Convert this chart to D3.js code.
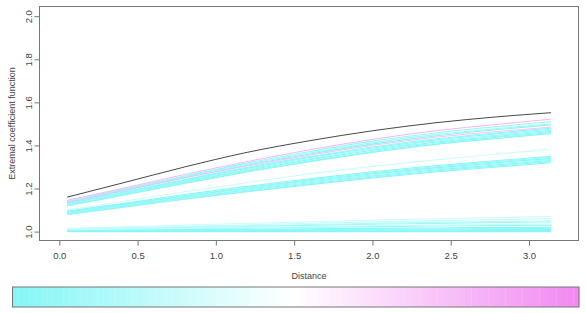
<!DOCTYPE html>
<html>
<head>
<meta charset="utf-8">
<script src="https://cdn.jsdelivr.net/npm/d3@7"></script>
<style>
  body { margin: 0; background: #fff; }
  text { font-family: "Liberation Sans", Arial, sans-serif; fill: #444; }
</style>
</head>
<body>
<svg width="586" height="313"></svg>
<script>
var distances = [0.05, 0.4, 0.8, 1.2, 1.6, 2.0, 2.4, 2.8, 3.14];

var xTicks = [0, 0.5, 1, 1.5, 2, 2.5, 3];
var yTicks = [1.0, 1.2, 1.4, 1.6, 1.8, 2.0];

// upper group (highest curve first)
var upperCurves = [
  [1.16, 1.225, 1.30, 1.368, 1.422, 1.468, 1.505, 1.533, 1.552],
  [1.145, 1.20, 1.265, 1.325, 1.38, 1.428, 1.468, 1.498, 1.522],
  [1.14, 1.195, 1.258, 1.318, 1.372, 1.42, 1.458, 1.488, 1.51],
  [1.14, 1.193, 1.255, 1.313, 1.365, 1.412, 1.45, 1.479, 1.50],
  [1.135, 1.188, 1.25, 1.308, 1.36, 1.406, 1.444, 1.474, 1.495],
  [1.135, 1.19, 1.25, 1.305, 1.355, 1.40, 1.438, 1.465, 1.485],
  [1.13, 1.182, 1.242, 1.298, 1.348, 1.393, 1.43, 1.459, 1.48],
  [1.13, 1.18, 1.239, 1.294, 1.344, 1.388, 1.425, 1.454, 1.475],
  [1.125, 1.176, 1.234, 1.289, 1.338, 1.382, 1.42, 1.448, 1.47],
  [1.125, 1.174, 1.231, 1.285, 1.334, 1.378, 1.415, 1.443, 1.465],
  [1.12, 1.17, 1.226, 1.28, 1.328, 1.372, 1.41, 1.438, 1.46],
  [1.12, 1.168, 1.224, 1.277, 1.325, 1.368, 1.405, 1.433, 1.455]
];
var upperShade = [-1, 0.85, 0.05, 0.1, 0.0, 0.8, 0.05, 0.0, 0.1, 0.0, 0.05, 0.0];

// middle group
var middleCurves = [
  [1.10, 1.14, 1.185, 1.228, 1.268, 1.303, 1.333, 1.36, 1.383],
  [1.095, 1.13, 1.172, 1.21, 1.245, 1.278, 1.306, 1.33, 1.35],
  [1.09, 1.126, 1.167, 1.205, 1.24, 1.273, 1.301, 1.325, 1.345],
  [1.09, 1.124, 1.164, 1.201, 1.236, 1.268, 1.296, 1.32, 1.34],
  [1.085, 1.12, 1.16, 1.197, 1.232, 1.263, 1.291, 1.315, 1.335],
  [1.085, 1.118, 1.157, 1.193, 1.227, 1.258, 1.286, 1.31, 1.33],
  [1.08, 1.114, 1.152, 1.188, 1.222, 1.253, 1.281, 1.305, 1.325],
  [1.08, 1.112, 1.15, 1.185, 1.218, 1.249, 1.277, 1.30, 1.32]
];
var middleShade = [0.3, 0.0, 0.05, 0.0, 0.1, 0.0, 0.05, 0.0];

// lower group, near 1
var lowerCurves = [
  [1.015, 1.022, 1.03, 1.038, 1.046, 1.053, 1.06, 1.065, 1.07],
  [1.012, 1.018, 1.025, 1.032, 1.039, 1.045, 1.051, 1.056, 1.06],
  [1.01, 1.015, 1.021, 1.027, 1.033, 1.038, 1.043, 1.047, 1.05],
  [1.01, 1.014, 1.019, 1.024, 1.029, 1.034, 1.038, 1.042, 1.045],
  [1.008, 1.011, 1.015, 1.019, 1.023, 1.027, 1.03, 1.033, 1.035],
  [1.006, 1.009, 1.013, 1.016, 1.02, 1.023, 1.026, 1.028, 1.03],
  [1.005, 1.007, 1.009, 1.011, 1.013, 1.015, 1.017, 1.019, 1.02],
  [1.003, 1.005, 1.007, 1.008, 1.01, 1.011, 1.012, 1.014, 1.015],
  [1.002, 1.003, 1.004, 1.005, 1.006, 1.007, 1.008, 1.009, 1.01],
  [1.001, 1.002, 1.002, 1.003, 1.003, 1.004, 1.004, 1.005, 1.005],
  [1.0, 1.0, 1.0, 1.0, 1.0, 1.0, 1.0, 1.0, 1.0]
];
var lowerShade = [0.3, 0.25, 0.2, 0.1, 0.25, 0.05, 0.0, 0.05, 0.0, 0.0, 0.0];

var svg = d3.select("svg");

var x = d3.scaleLinear().domain([0, 3]).range([59.3, 529]);
var y = d3.scaleLinear().domain([1, 2]).range([231.6, 16.2]);

var color = d3.scaleLinear()
    .domain([0, 0.5, 1])
    .range(["#86f6f6", "#ffffff", "#f28af2"]);

var line = d3.line()
    .x(function(d, i) { return x(distances[i]); })
    .y(function(d) { return y(d); })
    .curve(d3.curveMonotoneX);

var curves = [];
lowerCurves.forEach(function(c, i) { curves.push({ v: c, s: lowerShade[i] }); });
middleCurves.forEach(function(c, i) { curves.push({ v: c, s: middleShade[i] }); });
upperCurves.forEach(function(c, i) { curves.push({ v: c, s: upperShade[i] }); });

// lighter cyan first, pink next, black on top
var black = curves.filter(function(c) { return c.s < 0; });
var rest = curves.filter(function(c) { return c.s >= 0; });
rest.sort(function(a, b) { return a.s - b.s; });

svg.append("g")
  .selectAll("path")
  .data(rest.concat(black))
  .enter().append("path")
    .attr("d", function(d) { return line(d.v); })
    .attr("fill", "none")
    .attr("stroke", function(d) { return d.s < 0 ? "#333" : color(d.s); })
    .attr("stroke-width", function(d) { return d.s < 0 || d.s > 0.5 ? 0.9 : 1.1; });

// plot frame
svg.append("rect")
    .attr("x", 39.5).attr("y", 6.5)
    .attr("width", 539).attr("height", 234)
    .attr("fill", "none")
    .attr("stroke", "#777");

// x axis
var xAxis = svg.append("g").attr("transform", "translate(0,240.5)")
    .call(d3.axisBottom(x).tickValues(xTicks).tickSize(5).tickPadding(7)
      .tickFormat(d3.format(".1f")));
xAxis.select(".domain").remove();
xAxis.selectAll("line").attr("stroke", "#777");
xAxis.selectAll("text").style("font-size", "9.5px").attr("fill", "#4a4a4a");

// y axis
var yAxis = svg.append("g").attr("transform", "translate(39.5,0)")
    .call(d3.axisLeft(y).tickValues(yTicks).tickSize(5).tickFormat(d3.format(".1f")));
yAxis.select(".domain").remove();
yAxis.selectAll("line").attr("stroke", "#777");
yAxis.selectAll("text")
    .attr("x", null).attr("dy", null)
    .attr("text-anchor", "middle")
    .attr("transform", "translate(-11,0) rotate(-90)")
    .attr("dy", "0.35em")
    .style("font-size", "9.5px").attr("fill", "#4a4a4a");

svg.append("text")
    .attr("transform", "translate(12,123.5) rotate(-90)")
    .attr("text-anchor", "middle")
    .attr("dy", "0.35em")
    .style("font-size", "9px")
    .text("Extremal coefficient function");

svg.append("text")
    .attr("x", 309).attr("y", 279)
    .attr("text-anchor", "middle")
    .style("font-size", "9px")
    .text("Distance");

// colour key
var nKey = 100;
var key = d3.scaleLinear().domain([0, nKey]).range([12.5, 579]);
svg.append("g").selectAll("rect")
  .data(d3.range(nKey))
  .enter().append("rect")
    .attr("x", function(d) { return key(d); })
    .attr("y", 287)
    .attr("width", key(1) - key(0) + 0.3)
    .attr("height", 20)
    .attr("fill", function(d) { return color(d / (nKey - 1)); });
svg.append("rect")
    .attr("x", 12.5).attr("y", 287)
    .attr("width", 566.5).attr("height", 20)
    .attr("fill", "none")
    .attr("stroke", "#777");
</script>
</body>
</html>
